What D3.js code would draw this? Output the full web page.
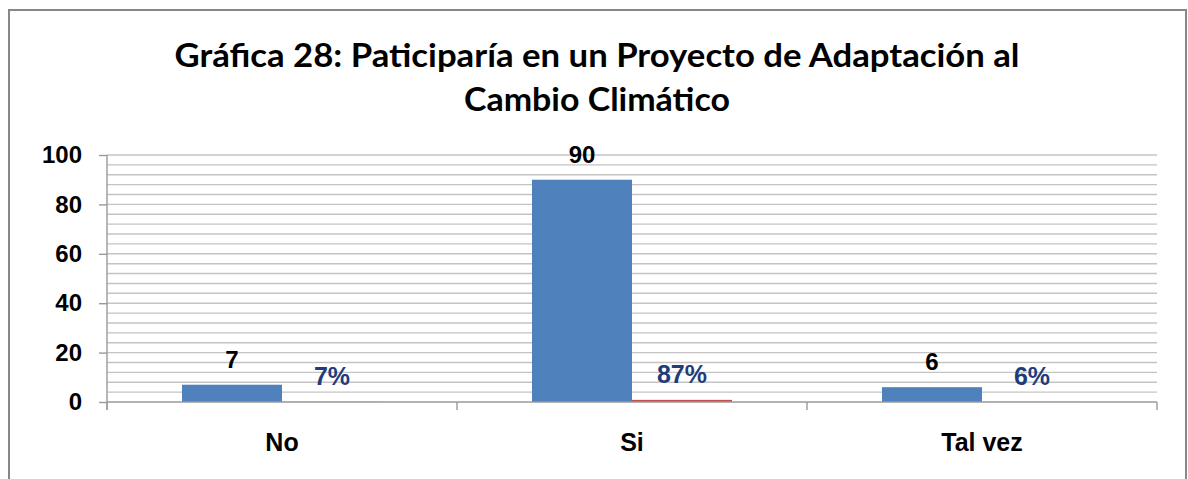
<!DOCTYPE html>
<html>
<head>
<meta charset="utf-8">
<script src="https://cdn.jsdelivr.net/npm/d3@7"></script>
<style>
  body { margin: 0; background: #fff; }
  svg { display: block; }
  .lbl { font-family: "Liberation Sans", Arial, sans-serif; font-weight: bold; }
</style>
</head>
<body>
<div id="chart"></div>
<script>
// data
const categories = ["No", "Si", "Tal vez"];
const counts = [7, 90, 6];
const shares = [0.07, 0.87, 0.06];
const shareLabels = ["7%", "87%", "6%"];
const yTicks = [0, 20, 40, 60, 80, 100];
const titleLines = ["Gráfica 28: Paticiparía en un Proyecto de Adaptación al", "Cambio Climático"];

const width = 1188, height = 479;
const margin = { top: 155, right: 31, bottom: 77, left: 107 };

const svg = d3.select("#chart").append("svg")
    .attr("width", width)
    .attr("height", height);

// outer frame
svg.append("rect")
    .attr("x", 9).attr("y", 10)
    .attr("width", 1177).attr("height", 520)
    .attr("fill", "#fff")
    .attr("stroke", "#878787")
    .attr("stroke-width", 2);

// title
svg.selectAll(".title")
    .data(titleLines)
    .enter().append("text")
    .attr("class", "title")
    .attr("x", 597)
    .attr("y", (d, i) => 67 + i * 44)
    .attr("text-anchor", "middle")
    .attr("textLength", (d, i) => i == 0 ? 845 : 266)
    .attr("lengthAdjust", "spacingAndGlyphs")
    .style("font-family", "Lato, 'Open Sans', sans-serif")
    .style("font-weight", "bold")
    .style("font-size", "32px")
    .style("fill", "#000")
    .text(d => d);

const x0 = margin.left, x1 = width - margin.right;
const yTop = margin.top, yBot = height - margin.bottom;

const x = d3.scaleBand().domain(categories).range([x0, x1]).padding(0);
const xs = d3.scaleBand().domain(["count", "share"]).range([0, x.bandwidth()])
    .paddingInner(0).paddingOuter(0.75);
const y = d3.scaleLinear().domain([0, 100]).range([yBot, yTop]);

// gridlines every 4 units (minor) - major every 20 coincide
const grid = d3.range(4, 101, 4);
svg.append("g").selectAll("line")
    .data(grid)
    .enter().append("line")
    .attr("x1", x0).attr("x2", x1)
    .attr("y1", d => y(d)).attr("y2", d => y(d))
    .attr("stroke", "#c4c4c4")
    .attr("stroke-width", 1.4);

// bars
const rows = categories.map((c, i) => ({ cat: c, count: counts[i], share: shares[i], label: shareLabels[i] }));

svg.append("g").selectAll("rect")
    .data(rows)
    .enter().append("rect")
    .attr("x", d => x(d.cat) + xs("count"))
    .attr("y", d => y(d.count))
    .attr("width", xs.bandwidth())
    .attr("height", d => y(0) - y(d.count))
    .attr("fill", "#4f81bd");

svg.append("g").selectAll("rect")
    .data(rows)
    .enter().append("rect")
    .attr("x", d => x(d.cat) + xs("share"))
    .attr("y", d => y(d.share))
    .attr("width", xs.bandwidth())
    .attr("height", d => Math.max(0, y(0) - y(d.share)))
    .attr("fill", "#c0504d");

// axes
const yAxis = svg.append("g")
    .attr("transform", "translate(" + x0 + ",0)")
    .call(d3.axisLeft(y).tickValues(yTicks).tickSize(8).tickPadding(17));
yAxis.select(".domain").remove();
yAxis.selectAll(".tick line").attr("stroke", "#9a9a9a").attr("stroke-width", 1.4);
yAxis.selectAll(".tick text")
    .attr("class", "lbl")
    .style("font-size", "24px")
    .style("fill", "#000");

svg.append("line")
    .attr("x1", x0).attr("x2", x0)
    .attr("y1", yTop).attr("y2", yBot + 8)
    .attr("stroke", "#9a9a9a").attr("stroke-width", 1.4);

const xAxis = svg.append("g")
    .attr("transform", "translate(0," + yBot + ")")
    .call(d3.axisBottom(x).tickSize(0).tickPadding(0));
xAxis.select(".domain").remove();
xAxis.selectAll(".tick text")
    .attr("class", "lbl")
    .attr("y", 49)
    .attr("dy", 0)
    .style("font-size", "25px")
    .style("fill", "#000");

svg.append("line")
    .attr("x1", x0).attr("x2", x1)
    .attr("y1", yBot).attr("y2", yBot)
    .attr("stroke", "#9a9a9a").attr("stroke-width", 1.4);

// category separators
svg.append("g").selectAll("line")
    .data(categories.concat(["end"]))
    .enter().append("line")
    .attr("x1", (d, i) => i < categories.length ? x(d) : x1)
    .attr("x2", (d, i) => i < categories.length ? x(d) : x1)
    .attr("y1", yBot).attr("y2", yBot + 8)
    .attr("stroke", "#9a9a9a").attr("stroke-width", 1.4);

// value labels
svg.append("g").selectAll("text")
    .data(rows)
    .enter().append("text")
    .attr("class", "lbl")
    .attr("x", d => x(d.cat) + xs("count") + xs.bandwidth() / 2)
    .attr("y", d => y(d.count) - 17)
    .attr("text-anchor", "middle")
    .style("font-size", "24px")
    .style("fill", "#000")
    .text(d => d.count);

svg.append("g").selectAll("text")
    .data(rows)
    .enter().append("text")
    .attr("class", "lbl")
    .attr("x", d => x(d.cat) + xs("share") + xs.bandwidth() / 2)
    .attr("y", d => y(d.share) - 17)
    .attr("text-anchor", "middle")
    .style("font-size", "25px")
    .style("fill", "#1f3c7a")
    .text(d => d.label);
</script>
</body>
</html>
